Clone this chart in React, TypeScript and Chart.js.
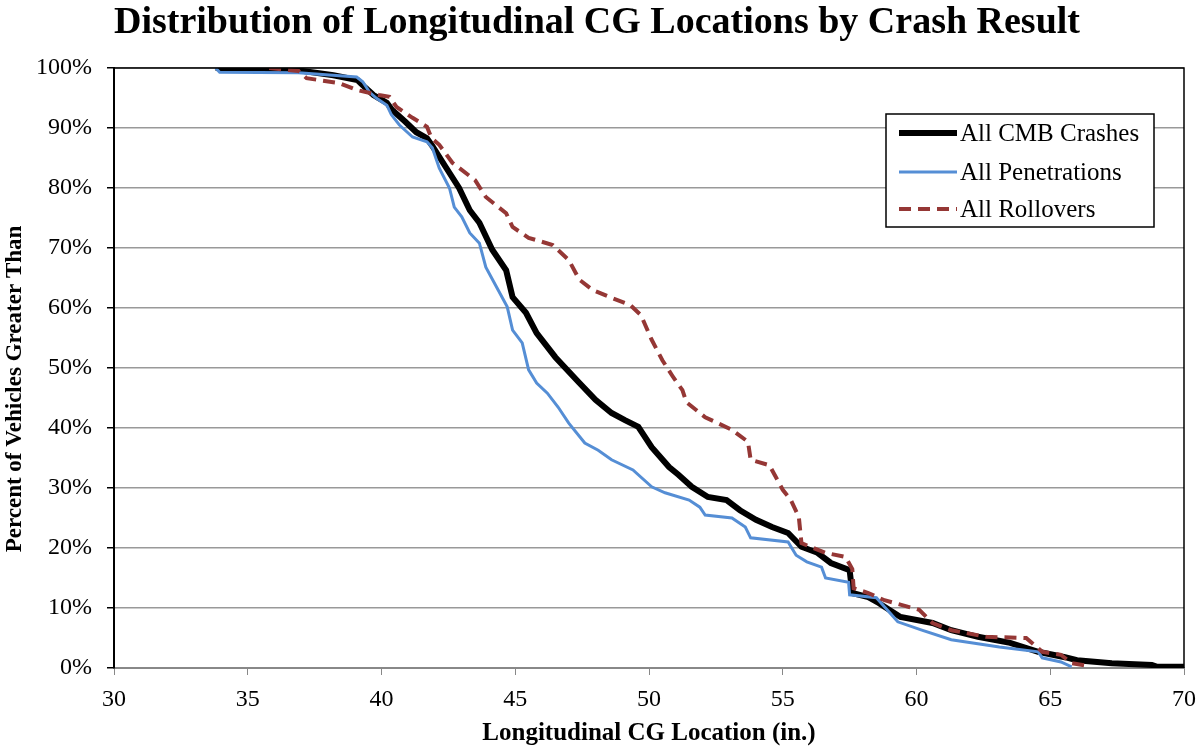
import React, { useEffect, useRef } from "react";
import { Chart, registerables } from "chart.js";

Chart.register(...registerables);

const TITLE = "Distribution of Longitudinal CG Locations by Crash Result";
const X_TITLE = "Longitudinal CG Location (in.)";
const Y_TITLE = "Percent of Vehicles Greater Than";
const SERIES_NAMES = ["All CMB Crashes", "All Penetrations", "All Rollovers"];

const cmbX = [33.8, 36.9, 38.2, 39.1, 39.4, 39.7, 40.2, 40.4, 40.9, 41.3, 41.7, 41.9, 42.4, 42.9, 43.3, 43.66, 44.14, 44.66, 44.9, 45.4, 45.8, 46.5, 47.4, 48.0, 48.6, 49.1, 49.6, 50.1, 50.75, 51.1, 51.6, 52.2, 52.9, 53.4, 54.0, 54.6, 55.2, 55.7, 56.3, 56.8, 57.5, 57.6, 58.2, 58.6, 59.4, 60.6, 61.3, 62.3, 63.5, 64.55, 65.55, 66.0, 67.3, 68.8, 69.0, 70];
const cmbY = [100, 99.6, 98.8, 98, 96.7, 95.5, 94.2, 93, 91, 89.3, 88.3, 87, 83.5, 80, 76.3, 74.2, 69.7, 66.3, 61.8, 59.2, 55.8, 51.8, 47.5, 44.7, 42.5, 41.3, 40.2, 36.8, 33.5, 32.2, 30.2, 28.5, 28, 26.3, 24.7, 23.5, 22.5, 20.2, 19.2, 17.5, 16.3, 12.5, 11.8, 10.8, 8.5, 7.5, 6.3, 5.2, 4.2, 2.7, 1.8, 1.3, 0.8, 0.5, 0.2, 0.2];

const penX = [33.8, 33.95, 36.9, 39.07, 39.3, 39.55, 39.8, 40.2, 40.37, 40.67, 41.16, 41.7, 41.9, 42.16, 42.54, 42.72, 43.0, 43.3, 43.66, 43.9, 44.3, 44.7, 44.9, 45.26, 45.5, 45.8, 46.2, 46.6, 47.0, 47.6, 48.1, 48.6, 49.4, 50.1, 50.6, 51.5, 51.9, 52.1, 53.1, 53.6, 53.8, 55.2, 55.5, 55.9, 56.45, 56.6, 57.46, 57.5, 58.5, 59.3, 60.2, 61.3, 63.1, 64.55, 64.7, 65.4, 65.8];
const penY = [100, 99.3, 99.2, 98.5, 97.7, 96, 95, 93.8, 92.2, 90.5, 88.5, 87.7, 86.7, 83.3, 80, 76.8, 75.2, 72.5, 70.8, 66.8, 63.5, 60.2, 56.3, 54.2, 49.7, 47.5, 45.8, 43.5, 40.8, 37.5, 36.3, 34.7, 33, 30.2, 29.2, 28, 26.8, 25.5, 25, 23.5, 21.7, 21, 18.8, 17.7, 16.8, 15, 14.3, 12.2, 11.7, 7.7, 6.3, 4.7, 3.5, 2.7, 1.7, 1.0, 0.2];

const rollX = [35.8, 36.9, 37.2, 38.4, 39.1, 39.9, 40.3, 40.56, 41.16, 41.7, 41.87, 42.16, 42.65, 43.5, 43.9, 44.66, 44.9, 45.5, 46.4, 47.0, 47.4, 47.9, 48.6, 49.3, 49.7, 50.1, 50.5, 50.9, 51.25, 51.4, 52.1, 53.1, 53.7, 53.8, 54.5, 55.0, 55.3, 55.6, 55.7, 56.6, 57.35, 57.6, 57.65, 58.2, 58.8, 60.1, 60.6, 61.3, 62.6, 64.1, 64.7, 65.4, 65.8, 66.5];
const rollY = [100, 99.5, 98.3, 97.5, 96.3, 95.5, 95.2, 93.5, 91.7, 90.2, 88.3, 87.2, 84.2, 81.3, 78.5, 75.8, 73.5, 71.7, 70.5, 68, 64.7, 63, 61.7, 60.5, 58.8, 54.7, 51.3, 48.5, 46.3, 44.3, 41.8, 39.7, 37.7, 34.7, 33.8, 29.7, 28, 25.2, 20.8, 19.2, 18.5, 16.5, 13.3, 12.5, 11.3, 9.7, 7.5, 6.3, 5.2, 5.0, 2.7, 2.2, 0.8, 0.3];

const COLORS = ["#000000", "#558ED5", "#953735"];
const WIDTHS = [6, 3, 4];
const DASHES: number[][] = [[], [], [12, 7]];

const toPts = (xs: number[], ys: number[]) => xs.map((x, i) => ({ x, y: ys[i] }));

const FONT = "'Liberation Serif', 'Times New Roman', serif";

const decorPlugin = {
  id: "decor",
  afterDraw(chart: any) {
    const { ctx, chartArea } = chart;
    ctx.save();
    ctx.strokeStyle = "#000";
    ctx.lineWidth = 1.5;
    ctx.beginPath();
    ctx.moveTo(chartArea.left, chartArea.top);
    ctx.lineTo(chartArea.right, chartArea.top);
    ctx.lineTo(chartArea.right, chartArea.bottom);
    ctx.stroke();
    ctx.fillStyle = "#000";
    ctx.font = `bold 38px ${FONT}`;
    ctx.textAlign = "center";
    ctx.textBaseline = "middle";
    ctx.fillText(TITLE, 597, 23);
    // y-axis title
    ctx.save();
    ctx.translate(15, 389);
    ctx.rotate(-Math.PI / 2);
    ctx.font = `bold 23px ${FONT}`;
    ctx.fillText(Y_TITLE, 0, 0);
    ctx.restore();
    // legend
    const bx = 886, by = 114, bw = 268, bh = 113;
    ctx.fillStyle = "#fff";
    ctx.fillRect(bx, by, bw, bh);
    ctx.strokeStyle = "#000";
    ctx.lineWidth = 1.5;
    ctx.strokeRect(bx, by, bw, bh);
    const rows = [133, 172, 209];
    ctx.font = `25px ${FONT}`;
    ctx.textAlign = "left";
    ctx.textBaseline = "middle";
    rows.forEach((ry, i) => {
      ctx.strokeStyle = COLORS[i];
      ctx.lineWidth = WIDTHS[i];
      ctx.setLineDash(DASHES[i]);
      ctx.beginPath();
      ctx.moveTo(899, ry);
      ctx.lineTo(957, ry);
      ctx.stroke();
      ctx.setLineDash([]);
      ctx.fillStyle = "#000";
      ctx.fillText(SERIES_NAMES[i], 960, ry + 1);
    });
    ctx.restore();
  },
};

export default function App() {
  const ref = useRef<HTMLCanvasElement | null>(null);
  useEffect(() => {
    if (!ref.current) return;
    const series = [toPts(cmbX, cmbY), toPts(penX, penY), toPts(rollX, rollY)];
    const chart = new Chart(ref.current, {
      type: "line",
      data: {
        datasets: series.map((d, i) => ({
          label: SERIES_NAMES[i],
          data: d,
          borderColor: COLORS[i],
          backgroundColor: COLORS[i],
          borderWidth: WIDTHS[i],
          borderDash: DASHES[i],
          pointRadius: 0,
          tension: 0,
          fill: false,
          order: 3 - i,
        })),
      },
      options: {
        animation: false,
        responsive: true,
        maintainAspectRatio: false,
        layout: { padding: { top: 68, right: 12, left: 0, bottom: 0 } },
        plugins: {
          legend: { display: false },
          title: { display: false },
          tooltip: { enabled: false },
        },
        scales: {
          x: {
            type: "linear",
            min: 30,
            max: 70,
            ticks: { stepSize: 5, color: "#000", font: { family: FONT, size: 24 }, padding: 10, maxRotation: 0 },
            grid: { drawOnChartArea: false, drawTicks: true, tickLength: 7, tickColor: "#888", color: "#888" },
            border: { display: true, color: "#888", width: 2 },
            title: { display: true, text: X_TITLE, color: "#000", font: { family: FONT, size: 25, weight: "bold" }, padding: { top: 0, bottom: 1 } },
            afterFit: (s: any) => { s.height = 82; s.paddingLeft = 0; s.paddingRight = 0; },
          },
          y: {
            min: 0,
            max: 100,
            ticks: { stepSize: 10, color: "#000", font: { family: FONT, size: 24 }, padding: 15, callback: (v: any) => v + "%" },
            grid: { color: "#999", lineWidth: 1.5, drawTicks: true, tickLength: 7, tickColor: "#000" },
            border: { display: true, color: "#000", width: 2 },
            title: { display: false },
            afterFit: (s: any) => { s.width = 114; },
          },
        },
      },
      plugins: [decorPlugin],
    });
    return () => chart.destroy();
  }, []);
  return (
    <div style={{ position: "fixed", left: 0, top: 0, width: 1196, height: 750, background: "#fff" }}>
      <canvas ref={ref} />
    </div>
  );
}
